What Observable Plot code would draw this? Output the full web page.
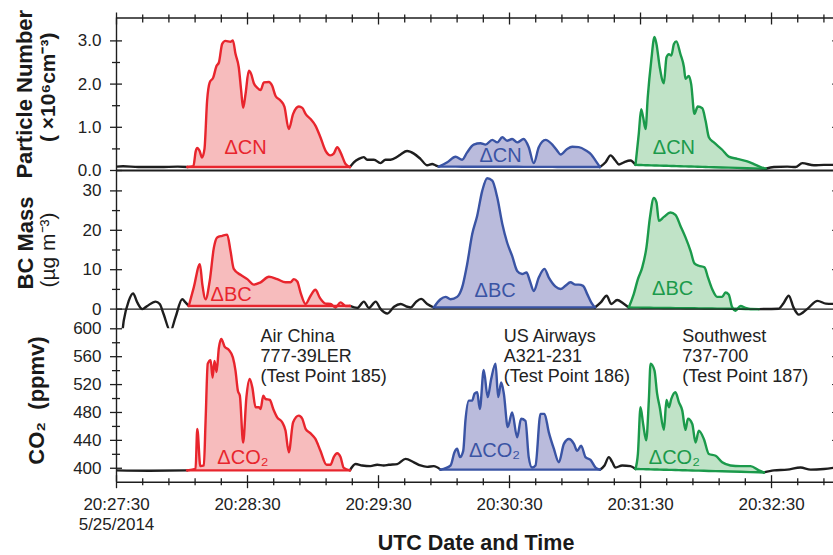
<!DOCTYPE html>
<html><head><meta charset="utf-8">
<script src="https://cdn.jsdelivr.net/npm/d3@7"></script>
<script src="https://cdn.jsdelivr.net/npm/@observablehq/plot@0.6"></script>
<style>
html,body{margin:0;padding:0;background:#fff;}
#chart{position:relative;width:833px;height:555px;overflow:hidden;background:#fff;}
#chart svg{position:absolute;left:0;top:0;background:transparent !important;max-width:none !important;}
</style></head><body><div id="chart"></div>
<script>
// ---------- time axis (seconds after 20:27:30 UTC, 25 May 2014) ----------
const T0 = Date.UTC(2014, 4, 25, 20, 27, 30);
const X_END = 329.3;
const majorTimes = [0, 60, 120, 180, 240, 300];
const minorStep = 12;
const xTickLabels = ["20:27:30\n5/25/2014", "20:28:30", "20:29:30", "20:30:30", "20:31:30", "20:32:30"];

// ---------- Particle number (10^6 cm^-3) ----------
const cnBackground = [
  [[0,0.09],[3,0.1],[10,0.08],[20,0.08],[28,0.09],[32.5,0.08]],
  [[106.9,0.08],[108.7,0.19],[111,0.27],[113.3,0.31],[114.8,0.25],[117.9,0.25],[120.9,0.17],[123.2,0.25],[125.5,0.25],[128.6,0.32],[130.1,0.37],[133.1,0.45],[136.2,0.39],[139.2,0.27],[142.3,0.12],[144.6,0.15],[146.1,0.12],[147.6,0.09]],
  [[221.4,0.08],[224,0.19],[226.3,0.35],[228.5,0.23],[230.1,0.14],[232.4,0.19],[235.4,0.23],[237.7,0.13]],
  [[297.3,0.04],[301.1,0.08],[307.2,0.09],[311,0.08],[314.1,0.17],[319.4,0.12],[324,0.13],[329.3,0.13]]
];
const cnAirChina = [[32.5,0.08],[35.2,0.1],[36.3,0.45],[37.0,0.52],[38.0,0.46],[39.2,0.3],[40.3,0.5],[41.5,1.62],[42.7,2.04],[44.3,2.15],[45.8,2.42],[46.9,2.5],[48.4,2.93],[49.9,3.0],[52.2,2.98],[53.3,3.01],[54.5,2.7],[56.0,2.39],[57.1,1.85],[58.0,1.45],[59.1,1.77],[60.6,2.31],[61.7,2.23],[62.9,2.02],[64.4,1.92],[66.0,1.86],[67.5,2.04],[69.8,2.05],[71.3,1.96],[72.8,1.73],[75.1,1.62],[76.9,1.48],[78.9,0.96],[80.9,1.31],[83.5,1.48],[85.1,1.45],[86.6,1.31],[88.9,1.19],[91.1,1.04],[93.4,0.77],[95.7,0.46],[98.0,0.35],[99.5,0.39],[101.1,0.54],[102.6,0.42],[104.9,0.15],[106.9,0.08]];
const cnUSAirways = [[147.6,0.09],[151.5,0.19],[155.3,0.32],[158.3,0.25],[160.6,0.42],[163.6,0.6],[166.7,0.63],[169.0,0.6],[172.1,0.71],[174.4,0.65],[176.7,0.77],[178.9,0.69],[181.2,0.73],[183.5,0.65],[186.5,0.73],[188.8,0.54],[191.1,0.17],[193.4,0.54],[196.5,0.71],[199.6,0.6],[201.8,0.46],[203.4,0.37],[206.4,0.5],[208.7,0.55],[211.7,0.54],[214.8,0.47],[217.4,0.37],[219.4,0.23],[221.4,0.08]];
const cnSouthwest = [[237.7,0.13],[239.2,0.85],[240.3,1.42],[241.2,1.23],[242.3,0.96],[243.3,1.69],[244.9,2.54],[246.4,3.09],[247.3,2.93],[248.8,2.39],[250.7,2.02],[251.9,2.62],[253.0,2.69],[254.1,2.66],[255.3,2.93],[256.4,2.99],[258.3,2.69],[259.9,2.39],[260.6,2.12],[262.1,2.19],[263.2,2.0],[264.7,1.31],[266.2,1.48],[268.3,1.44],[269.8,1.15],[271.3,0.77],[273.6,0.65],[277.4,0.48],[280.4,0.32],[284.3,0.27],[288.9,0.21],[291.9,0.15],[295.0,0.08],[297.3,0.04]];

// ---------- BC mass (ug m^-3) ----------
const bcBackground = [
  [[0,-6],[2.6,-5.6],[3.3,-3],[5.6,2.1],[7.6,4.0],[9.5,1.7],[11.8,0],[14.1,0.8],[17.9,1.9],[19.8,1.3],[21.6,-1.3],[24.7,-5.6],[27,-2.1],[30.1,2.5],[31.6,1.7],[33.1,0.8]],
  [[106.9,0.8],[110.3,0.3],[113.3,1.9],[115.6,0.3],[118.7,1.9],[121,0],[124.1,-1.1],[127.1,0.6],[130.1,1.3],[133.2,0.6],[134.7,0.4],[137,1.7],[139.5,2.6],[142.3,1.3],[145.3,0.4]],
  [[219.1,0.4],[221.8,1.7],[224.5,3.4],[226.6,1.3],[229.3,2.3],[232.0,1.5],[234.6,0.4]],
  [[294.2,0],[303.2,0.1],[305.5,1.5],[307.9,3.4],[310,0.5],[312.5,-1.4],[316.3,0],[321.1,2.1],[324.9,1.4],[329.3,1.3]]
];
const bcAirChina = [[33.1,0.8],[35.4,5.5],[38.2,11.4],[39.3,6.3],[40.8,2.5],[42.7,7.2],[44.6,15.6],[46.1,18.2],[48.4,18.6],[50.7,18.9],[52.2,14.8],[53.7,10.2],[56.8,8.7],[59.9,7.6],[62.9,6.2],[66.0,6.8],[69.8,8.2],[73.6,7.6],[77.4,6.8],[79.7,6.8],[81.2,7.6],[82.8,7.0],[84.3,4.2],[86.6,1.3],[88.9,3.4],[91.1,4.9],[93.1,2.9],[95.7,1.4],[98.0,1.3],[100.3,0.4],[102.6,1.7],[104.9,0.8],[106.9,0.8]];
const bcUSAirways = [[145.3,0.4],[148.4,2.5],[150.7,3.1],[153.0,2.5],[156.0,3.1],[158.3,5.5],[160.6,11.4],[162.9,19.0],[165.2,23.7],[167.5,30.0],[169.8,33.2],[172.1,32.6],[174.4,28.3],[176.7,21.6],[178.9,16.9],[181.2,13.5],[183.5,9.7],[185.8,8.9],[187.8,9.3],[189.3,7.2],[191.1,4.6],[193.4,8.0],[196.0,10.2],[198.0,8.0],[201.1,5.7],[203.4,5.1],[205.6,5.9],[207.9,6.8],[210.2,6.2],[211.7,6.2],[213.7,5.9],[215.6,3.8],[217.4,1.7],[219.1,0.4]];
const bcSouthwest = [[234.6,0.4],[236.9,3.8],[238.8,7.6],[240.8,10.6],[242.7,15.6],[244.3,23.2],[246.1,28.2],[247.3,27.1],[248.4,22.4],[250.7,23.4],[253.7,24.5],[256.0,23.9],[258.3,21.1],[260.6,18.2],[262.9,14.8],[264.7,11.6],[266.7,11.0],[269.3,10.6],[270.8,8.2],[272.8,5.1],[275.1,3.1],[277.4,3.1],[278.9,4.2],[280.4,3.7],[281.9,0.6],[283.5,-0.4],[285.8,0.8],[288.1,0.3],[290.4,0],[294.2,0]];

// ---------- CO2 (ppmv) ----------
const co2Background = [
  [[0,397],[15,396.5],[32.4,397]],
  [[106.9,397],[109.5,406],[112.5,404],[116.3,403],[119.4,405],[122.4,404],[124.7,405],[128.6,406],[132.4,413.5],[136.2,408.5],[139.2,404],[142.3,402],[145.3,403],[148.4,398]],
  [[221.4,398],[223.5,404],[225.5,416],[227,409],[228.5,401],[231.6,404],[235.4,403],[237.7,399]],
  [[296.5,394],[301.1,397],[307.2,398],[313.3,401],[317.9,398],[324,399],[329.3,401]]
];
const co2AirChina = [[32.4,397],[36.2,399],[37.0,456.5],[38.4,403],[40.0,404],[40.8,468],[41.8,550],[43.1,555],[44.0,530],[44.9,554],[45.8,538],[46.9,573],[48.0,585.5],[49.5,574.5],[51.4,570],[53.3,559],[54.5,540],[55.6,511],[56.5,504],[58.0,437],[59.5,502],[61.0,528],[62.2,516],[63.7,487.5],[65.2,487.5],[66.0,485],[67.2,504],[68.2,499.5],[70.2,498],[71.8,485],[73.6,473],[75.9,466],[77.4,454],[78.9,423],[80.9,466],[83.5,475.5],[85.1,471],[86.6,456.5],[88.9,450],[91.1,442],[93.4,425],[96.2,405],[98.0,405],[99.5,416],[101.1,421.5],[102.6,416],[104.1,400.5],[106.9,397]];
const co2USAirways = [[148.4,398],[153.0,404],[154.8,423],[156.0,428],[157.3,416],[158.8,425],[159.8,468],[161.4,497],[162.9,497],[164.0,507],[165.2,509],[166.4,485],[168.2,541],[170.0,502],[171.6,528],[173.6,550],[174.8,502],[176.2,523],[177.4,507],[179.2,459],[181.2,480],[183.5,444.5],[185.3,471],[187.3,468],[188.8,416],[190.3,401],[191.9,404],[194.2,478],[196.0,478],[198.0,451.5],[200.3,428],[202.6,408.5],[204.9,435],[207.2,442],[209.5,435],[211.0,425],[212.8,432.5],[214.8,416],[217.1,412],[219.4,401],[221.4,398]];
const co2Southwest = [[237.7,399],[238.8,420.5],[240.0,487.5],[241.2,463.5],[242.6,440],[243.8,497],[244.6,550],[246.4,540],[247.6,507],[248.8,487.5],[250.7,455],[251.9,498],[253.0,487.5],[254.1,499.5],[256.0,509],[257.6,494.5],[259.1,483],[260.6,455],[261.7,471],[263.7,463.5],[265.2,437],[266.7,454],[269.0,442],[271.3,420.5],[274.4,418],[277.4,408.5],[281.2,404],[285.8,403],[290.4,403],[294.2,397],[296.5,394]];

// ---------- labels ----------
const aircraft = ["Air China\n777-39LER\n(Test Point 185)", "US Airways\nA321-231\n(Test Point 186)", "Southwest\n737-700\n(Test Point 187)"];
const aircraftT = [66, 177.4, 259.1];
const aircraftV = [602.3, 602.3, 602.3];
const cnLabelT = [59.1, 175.9, 255.3], cnLabelV = [0.54, 0.35, 0.54];
const bcLabelT = [52.5, 173.4, 254.7], bcLabelV = [3.6, 4.8, 5.3];
const co2LabelT = [57.9, 173.1, 255.5], co2LabelV = [415.8, 425.4, 415.8];

// ---------- style ----------
const lineColors = ["#e8252d", "#3a54a4", "#1b9a4b"];
const fillColors = ["#f7bcbd", "#babbdc", "#c0e3c7"];
const INK = "#1e1e1e";
const FONT = "'Liberation Sans', Arial, Helvetica, sans-serif";

const tt = s => new Date(T0 + s * 1000);
const W = 840, H = 555, ML = 116, MR = 5;
const minorTimes = d3.range(minorStep, X_END, minorStep).filter(s => s % 60 !== 0);
const blank = () => "";

function panel(o) {
  const marks = [];
  const plumes = o.plumes.map((data) => {
    const [t0, v0] = data[0], [t1, v1] = data[data.length - 1];
    return data.map(([t, v]) => ({t: tt(t), v, b: v0 + (v1 - v0) * (t - t0) / (t1 - t0)}));
  });
  plumes.forEach((rows, k) => marks.push(Plot.areaY(rows, {x: "t", y1: "b", y2: "v", fill: fillColors[k], curve: "monotone-x", clip: true})));
  o.background.forEach(seg => marks.push(Plot.line(seg, {x: d => tt(d[0]), y: d => d[1], stroke: INK, strokeWidth: 2.4, curve: "monotone-x", clip: true})));
  plumes.forEach((rows, k) => {
    marks.push(Plot.line(rows, {x: "t", y: "b", stroke: lineColors[k], strokeWidth: 2.4, clip: true}));
    marks.push(Plot.line(rows, {x: "t", y: "v", stroke: lineColors[k], strokeWidth: 2.4, curve: "monotone-x", clip: true}));
  });
  // frame lines
  marks.push(Plot.ruleX([tt(0)], {stroke: INK, strokeWidth: 1.4}));
  o.rules.forEach(r => marks.push(Plot.ruleY([r.v], {stroke: INK, strokeWidth: r.w})));
  // y axis
  marks.push(Plot.axisY({anchor: "left", ticks: o.major, tickSize: 12, dx: 6, tickFormat: blank, label: null, stroke: INK, strokeWidth: 1.3}));
  marks.push(Plot.axisY({anchor: "left", ticks: o.minor, tickSize: 8, dx: 4, tickFormat: blank, label: null, stroke: INK, strokeWidth: 1.3}));
  marks.push(Plot.axisY({anchor: "left", ticks: o.major, tickSize: 0, tickPadding: 15, tickFormat: o.fmt, label: null, fontSize: 17, fill: "#222"}));
  marks.push(Plot.axisY({anchor: "right", ticks: o.right, tickSize: 4, dx: -4, tickFormat: blank, label: null, stroke: INK}));
  // plume labels
  marks.push(Plot.text(o.labelT.map((t, i) => ({t: tt(t), v: o.labelV[i], k: i})), {
    x: "t", y: "v", text: () => o.labelText, fill: d => lineColors[d.k], fontSize: 20, textAnchor: "middle", lineAnchor: "middle"
  }));
  // axis titles
  o.titles.forEach(tl => marks.push(Plot.text([tl.text], {
    frameAnchor: "left", rotate: -90, dx: tl.x - ML, dy: tl.dy, fontSize: tl.size, fontWeight: tl.weight, fill: "#1a1a1a",
    textAnchor: "middle", lineAnchor: "middle"
  })));
  if (o.extra) marks.push(...o.extra);
  return Plot.plot({
    width: W, height: H,
    marginLeft: ML, marginRight: MR, marginTop: o.top, marginBottom: H - o.bottom,
    x: {type: "utc", domain: [tt(0), tt(X_END)], label: null, axis: null},
    y: {domain: o.domain, label: null, axis: null},
    style: {background: "transparent", maxWidth: "none", overflow: "visible", fontFamily: FONT, color: "#222"},
    marks
  });
}

const chart = document.getElementById("chart");

// Panel 1 — particle number
chart.appendChild(panel({
  top: 17.5, bottom: 170, domain: [0, 3.53],
  plumes: [cnAirChina, cnUSAirways, cnSouthwest], background: cnBackground,
  rules: [{v: 3.53, w: 1.5}, {v: 0, w: 2}],
  major: [0, 1, 2, 3], minor: [0.5, 1.5, 2.5], right: [1, 2, 3], fmt: d3.format(".1f"),
  labelT: cnLabelT, labelV: cnLabelV, labelText: "ΔCN",
  titles: [
    {text: "Particle Number", x: 24, dy: 0, size: 22, weight: "bold"},
    {text: "( ×10⁶cm⁻³)", x: 48, dy: -7, size: 21, weight: "bold"}
  ],
  extra: [
    Plot.axisX({anchor: "top", ticks: majorTimes.map(tt), tickSize: 12, dy: 6, tickFormat: blank, label: null, stroke: INK, strokeWidth: 1.3}),
    Plot.axisX({anchor: "top", ticks: minorTimes.map(tt), tickSize: 8, dy: 4, tickFormat: blank, label: null, stroke: INK, strokeWidth: 1.3})
  ]
}));

// Panel 2 — BC mass
chart.appendChild(panel({
  top: 170.7, bottom: 328.3, domain: [-5, 35],
  plumes: [bcAirChina, bcUSAirways, bcSouthwest], background: bcBackground,
  rules: [{v: 0, w: 1.4}],
  major: [0, 10, 20, 30], minor: [5, 15, 25], right: [10, 20, 30], fmt: d3.format("d"),
  labelT: bcLabelT, labelV: bcLabelV, labelText: "ΔBC",
  titles: [
    {text: "BC Mass", x: 25, dy: -7, size: 22, weight: "bold"},
    {text: "(µg m⁻³)", x: 48, dy: 0, size: 21, weight: "normal"}
  ]
}));

// Panel 3 — CO2
const fmtTime = d => xTickLabels[majorTimes.indexOf(Math.round((+d - T0) / 1000))];
chart.appendChild(panel({
  top: 328.3, bottom: 481.7, domain: [380, 600],
  plumes: [co2AirChina, co2USAirways, co2Southwest], background: co2Background,
  rules: [{v: 380, w: 1.5}],
  major: [400, 440, 480, 520, 560, 600], minor: [420, 460, 500, 540, 580], right: [440, 480, 520, 560, 600], fmt: d3.format("d"),
  labelT: co2LabelT, labelV: co2LabelV, labelText: "ΔCO₂",
  titles: [
    {text: "CO₂  (ppmv)", x: 36, dy: -5, size: 22, weight: "bold"}
  ],
  extra: [
    Plot.axisX({anchor: "bottom", ticks: majorTimes.map(tt), tickSize: 13, dy: -6.5, tickFormat: blank, label: null, stroke: INK, strokeWidth: 1.3}),
    Plot.axisX({anchor: "bottom", ticks: minorTimes.map(tt), tickSize: 7, dy: -3.5, tickFormat: blank, label: null, stroke: INK, strokeWidth: 1.3}),
    Plot.axisX({anchor: "bottom", ticks: majorTimes.map(tt), tickSize: 0, tickPadding: 13, tickFormat: fmtTime, label: null, fontSize: 17, lineHeight: 1.2, fill: "#222"}),
    Plot.text(["UTC Date and Time"], {frameAnchor: "bottom", dy: 61, fontSize: 21.5, fontWeight: "bold", fill: "#1a1a1a", lineAnchor: "middle"}),
    Plot.text(aircraft.map((s, i) => ({s, t: tt(aircraftT[i]), v: aircraftV[i]})), {
      x: "t", y: "v", text: "s", textAnchor: "start", lineAnchor: "top", fontSize: 18, lineHeight: 1.12, fill: "#222"
    })
  ]
}));
</script></body></html>
